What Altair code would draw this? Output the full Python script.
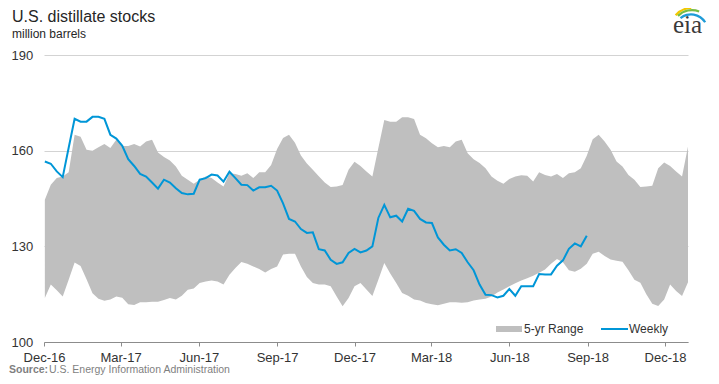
import altair as alt
import pandas as pd

# ---------------- data ----------------
START = "2016-12-02"          # first weekly observation (weekly, every 7 days)

band_high = [
    144.6, 149.3, 151.4, 151.9, 153.2, 165.0, 164.4, 160.3, 160.0, 161.1,
    162.1, 160.8, 163.4, 161.5, 161.5, 162.1, 161.3, 162.9, 163.4, 159.4,
    158.0, 156.9, 155.0, 152.1, 150.9, 149.6, 150.9, 151.9, 151.4, 150.0,
    148.8, 152.9, 152.7, 152.1, 152.9, 151.4, 153.2, 153.2, 155.5, 160.5,
    164.0, 165.0, 162.5, 158.5, 156.0, 154.0, 152.0, 150.0, 148.6, 148.8,
    149.2, 154.0, 156.5, 155.2, 153.5, 151.9, 160.8, 169.6, 169.1, 169.1,
    170.5, 170.5, 169.9, 165.0, 163.9, 162.3, 161.1, 161.5, 161.1, 162.9,
    163.4, 159.2, 157.3, 156.1, 154.5, 151.9, 150.6, 149.6, 151.1, 151.9,
    152.3, 152.1, 150.3, 153.2, 152.4, 151.9, 152.7, 151.4, 152.9, 153.2,
    154.5, 158.4, 163.6, 165.0, 162.9, 160.3, 156.6, 155.0, 152.4, 150.9,
    148.6, 148.8, 149.0, 154.5, 156.3, 155.2, 153.5, 151.9, 161.3,
]

band_low = [
    113.8, 118.0, 116.2, 114.3, 119.5, 124.9, 123.8, 119.7, 115.3, 113.6,
    112.9, 113.3, 114.3, 113.9, 111.8, 111.6, 112.5, 112.5, 112.6, 112.6,
    113.2, 113.8, 113.3, 114.5, 116.4, 116.8, 118.5, 119.0, 119.3, 119.0,
    118.0, 121.1, 123.2, 125.1, 124.5, 123.7, 122.9, 121.8, 122.9, 123.7,
    127.4, 127.7, 127.7, 123.7, 120.4, 118.5, 118.0, 118.0, 117.5, 114.3,
    111.2, 113.8, 117.5, 118.5, 116.5, 114.4, 119.5, 124.8, 121.5, 118.5,
    115.4, 114.5, 113.3, 113.0, 112.2, 111.8, 111.5, 112.0, 112.5, 112.5,
    112.3, 112.5, 113.0, 113.3, 113.6, 114.3, 115.5, 116.5, 117.5, 118.4,
    119.3, 120.0, 120.8, 121.7, 122.7, 124.5, 126.0, 125.0, 122.5, 122.0,
    123.0, 124.5, 127.7, 128.3, 127.0, 125.9, 125.5, 125.2, 122.5, 119.5,
    118.6, 115.0, 112.0, 111.3, 113.3, 118.0, 116.0, 114.4, 118.7,
]

weekly = [
    156.6, 155.9, 153.5, 151.7, 160.9, 170.0, 169.1, 169.1, 170.6, 170.6,
    170.0, 165.0, 163.8, 161.5, 157.3, 155.2, 152.7, 151.9, 150.0, 148.1,
    150.9, 150.0, 148.2, 146.7, 146.3, 146.5, 150.9, 151.4, 152.5, 152.2,
    150.3, 153.4, 151.4, 149.3, 149.2, 147.5, 148.5, 148.5, 149.0, 147.5,
    143.5, 138.6, 137.8, 135.4, 134.2, 134.4, 129.1, 128.7, 125.8, 124.5,
    125.0, 127.9, 129.2, 128.1, 128.7, 130.0, 138.9, 143.0, 139.1, 139.6,
    137.8, 141.8, 141.1, 138.6, 137.5, 137.3, 132.8, 130.5, 128.7, 129.1,
    127.9, 125.0, 122.5, 118.0, 114.8, 114.7, 114.0, 114.5, 116.6, 114.5,
    117.5, 117.5, 117.5, 121.3, 121.2, 121.2, 123.9, 125.6, 129.2, 130.9,
    130.0, 133.3,
]

y_ticks = [100, 130, 160, 190]
x_tick_months = [(2016, 12), (2017, 3), (2017, 6), (2017, 9), (2017, 12),
                 (2018, 3), (2018, 6), (2018, 9), (2018, 12)]
x_domain = [(2016, 12, 1), (2018, 12, 28)]

title_text = "U.S. distillate stocks"
subtitle_text = "million barrels"
legend_labels = ["5-yr Range", "Weekly"]
source_bold = "Source:"
source_text = "U.S. Energy Information Administration"

# ---------------- tables ----------------
dates = pd.date_range(START, periods=len(band_high), freq="7D")
band_df = pd.DataFrame({"date": dates.strftime("%Y-%m-%d"),
                        "low": band_low, "high": band_high})
line_df = pd.DataFrame({"date": dates[:len(weekly)].strftime("%Y-%m-%d"),
                        "value": weekly})
one = pd.DataFrame({"a": [0]})

GRAY = "#bfbfbf"
BLUE = "#0096d7"
FONT = "Liberation Sans"

x_scale = alt.Scale(type="utc", nice=False,
                    domain=[alt.DateTime(year=y, month=m, date=d, utc=True) for y, m, d in x_domain])
x_axis = alt.Axis(values=[alt.DateTime(year=y, month=m, date=1, utc=True) for y, m in x_tick_months],
                  format="%b-%y", title=None, grid=False, domainColor="#8c8c8c",
                  tickColor="#8c8c8c", tickSize=4, labelPadding=5, labelFontSize=13,
                  labelColor="#333333", labelFont=FONT, labelFlush=False, labelOverlap=False)
y_scale = alt.Scale(domain=[100, 190], nice=False, zero=False)
y_axis = alt.Axis(values=y_ticks, title=None, domain=False, ticks=False, labelAlign="left",
                  labelPadding=33, labelFontSize=13, labelColor="#333333", labelFont=FONT,
                  gridColor="#d3d3d3", gridWidth=1)

band = alt.Chart(band_df).mark_area(color=GRAY, opacity=1).encode(
    x=alt.X("date:T", scale=x_scale, axis=x_axis),
    y=alt.Y("low:Q", scale=y_scale, axis=y_axis),
    y2="high:Q",
)

line = alt.Chart(line_df).mark_line(color=BLUE, strokeWidth=2).encode(
    x=alt.X("date:T", scale=x_scale, axis=x_axis),
    y=alt.Y("value:Q", scale=y_scale, axis=y_axis),
)

def txt(s, x, y, size, color="#333333", weight="normal", font=FONT):
    return alt.Chart(one).mark_text(text=s, align="left", baseline="alphabetic",
                                    fontSize=size, color=color, fontWeight=weight,
                                    font=font).encode(x=alt.value(x), y=alt.value(y))

title = txt(title_text, -32, -33, 16, "#262626")
subtitle = txt(subtitle_text, -32, -17, 12, "#262626")

leg_rect = alt.Chart(one).mark_rect(color=GRAY).encode(
    x=alt.value(452), x2=alt.value(478), y=alt.value(271), y2=alt.value(277))
leg_t1 = txt(legend_labels[0], 480, 278, 12)
leg_line = alt.Chart(one).mark_rule(color=BLUE, strokeWidth=2).encode(
    x=alt.value(557), x2=alt.value(584), y=alt.value(274))
leg_t2 = txt(legend_labels[1], 585, 278, 12)

src1 = txt(source_bold, -35, 318, 10.5, "#7f7f7f", "bold")
src2 = txt(source_text, 5, 318, 10.5, "#7f7f7f")

logo_t = txt("eia", 629, -22, 25, "#3a3a3a", font="Liberation Serif")
arc_y = alt.Chart(one).mark_arc(theta=5.45, theta2=6.25, radius=21, radius2=23.2, color="#f2c800").encode(
    x=alt.value(648), y=alt.value(-25))
arc_g = alt.Chart(one).mark_arc(theta=5.5, theta2=6.65, radius=18.8, radius2=21, color="#77bc43").encode(
    x=alt.value(648), y=alt.value(-25))
arc_b = alt.Chart(one).mark_arc(theta=5.6, theta2=7.3, radius=15.5, radius2=17.8, color="#1e9bd7").encode(
    x=alt.value(647), y=alt.value(-24))

chart = alt.layer(
    band, line, title, subtitle, leg_rect, leg_t1, leg_line, leg_t2, src1, src2,
    arc_y, arc_g, arc_b, logo_t,
).properties(
    width=644, height=287,
    autosize=alt.AutoSizeParams(type="none"),
    padding={"left": 36, "top": 47, "right": 23, "bottom": 34},
    background="white",
).configure_view(stroke=None)

chart.save("out.html", embed_options={"renderer": "svg", "actions": False})
